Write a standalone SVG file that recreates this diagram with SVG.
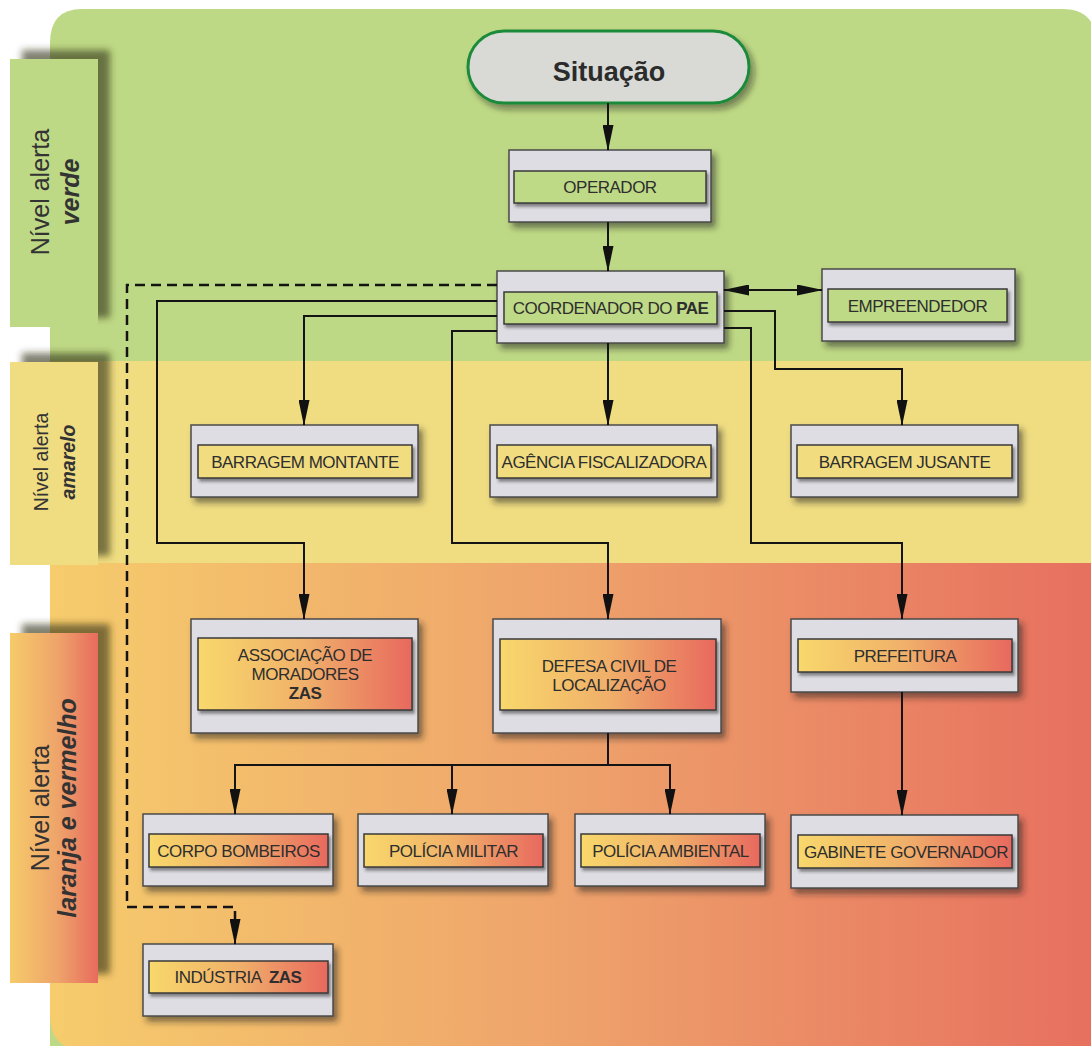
<svg xmlns="http://www.w3.org/2000/svg" width="1091" height="1046" viewBox="0 0 1091 1046">
<defs>
<style>
.t{font-family:"Liberation Sans",Arial,sans-serif;font-size:17px;letter-spacing:-0.5px;fill:#2e2e2e;text-anchor:middle}
.b{font-weight:bold}
.lab{font-family:"Liberation Sans",Arial,sans-serif;fill:#333;text-anchor:middle}
.outer{fill:#dedde3;stroke:#4a4a4a;stroke-width:1.5;filter:url(#sh)}
.inner{stroke:#3a3a3a;stroke-width:1.5;filter:url(#sh2)}
.ig{fill:#bfda86}
.iy{fill:#f1dc80}
.io{fill:url(#gInner)}
.ln{fill:none;stroke:#141414;stroke-width:2}
.arr{marker-end:url(#ah)}
.dash{fill:none;stroke:#141414;stroke-width:2.5;stroke-dasharray:10 6}
</style>
<linearGradient id="gBand" x1="50" y1="0" x2="1091" y2="0" gradientUnits="userSpaceOnUse">
<stop offset="0" stop-color="#f6cc6c"/>
<stop offset="0.5" stop-color="#eea26b"/>
<stop offset="1" stop-color="#e7705f"/>
</linearGradient>
<linearGradient id="gInner" x1="0" y1="0" x2="1" y2="0">
<stop offset="0" stop-color="#f8d86c"/>
<stop offset="0.5" stop-color="#f0b06a"/>
<stop offset="1" stop-color="#e8695e"/>
</linearGradient>
<linearGradient id="gLab" x1="0" y1="0" x2="1" y2="0">
<stop offset="0" stop-color="#f6cb6b"/>
<stop offset="0.55" stop-color="#eea36a"/>
<stop offset="1" stop-color="#e86b5e"/>
</linearGradient>
<filter id="sh" x="-10%" y="-10%" width="125%" height="135%">
<feDropShadow dx="4" dy="5" stdDeviation="3" flood-color="#1a1a1a" flood-opacity="0.55"/>
</filter>
<filter id="sh2" x="-10%" y="-20%" width="125%" height="150%">
<feDropShadow dx="2" dy="3" stdDeviation="1.5" flood-color="#1a1a1a" flood-opacity="0.5"/>
</filter>
<filter id="shL" x="-20%" y="-10%" width="160%" height="125%">
<feDropShadow dx="12" dy="-9" stdDeviation="3.5" flood-color="#2a2a14" flood-opacity="0.6"/>
</filter>
<filter id="shP" x="-10%" y="-20%" width="125%" height="150%">
<feDropShadow dx="4" dy="5" stdDeviation="3" flood-color="#1a1a1a" flood-opacity="0.45"/>
</filter>
<marker id="ah" viewBox="0 0 26 11" refX="25" refY="5.5" markerWidth="26" markerHeight="11" markerUnits="userSpaceOnUse" orient="auto-start-reverse">
<path d="M0,0 L26,5.5 L0,11 Z" fill="#111"/>
</marker>
</defs>

<rect x="0" y="0" width="1091" height="1046" fill="#ffffff"/>

<g id="bands">
<path d="M82,9 H1062 Q1096,9 1096,43 V1050 H50 V43 Q50,9 82,9 Z" fill="#bed985"/>
<rect x="50" y="361" width="1046" height="202" fill="#f0dd82"/>
<path d="M50,563 H1096 V1050 H84 Q50,1050 50,1014 Z" fill="url(#gBand)"/>
</g>

<g id="labels">
<g id="label-verde">
<rect x="10" y="59" width="88" height="268" fill="#bed985" filter="url(#shL)"/>
<text class="lab" font-size="25" transform="translate(49,192) rotate(-90)">Nível alerta</text>
<text class="lab" font-size="25" font-weight="bold" font-style="italic" transform="translate(79,192) rotate(-90)">verde</text>
</g>
<g id="label-amarelo">
<rect x="10" y="362" width="88" height="203" fill="#f0dd82" filter="url(#shL)"/>
<text class="lab" font-size="19.5" transform="translate(48,462) rotate(-90)">Nível alerta</text>
<text class="lab" font-size="19.5" font-weight="bold" font-style="italic" transform="translate(75,462) rotate(-90)">amarelo</text>
</g>
<g id="label-laranja">
<rect x="10" y="633" width="88" height="350" fill="url(#gLab)" filter="url(#shL)"/>
<text class="lab" font-size="25" transform="translate(49,808) rotate(-90)">Nível alerta</text>
<text class="lab" font-size="25" font-weight="bold" font-style="italic" transform="translate(76,808) rotate(-90)">laranja e vermelho</text>
</g>
</g>

<g id="situacao">
<rect x="468" y="31" width="281" height="72" rx="36" ry="36" fill="#d9dad6" stroke="#1c8a3b" stroke-width="3" filter="url(#shP)"/>
<text x="609" y="81" font-family="Liberation Sans, Arial, sans-serif" font-size="27" font-weight="bold" fill="#2b2b2b" text-anchor="middle">Situação</text>
</g>

<g id="operador">
<rect class="outer" x="509" y="150" width="202" height="72"/>
<rect class="inner ig" x="514" y="171" width="192" height="32"/>
<text class="t" x="610" y="193">OPERADOR</text>
</g>

<g id="coordenador">
<rect class="outer" x="497" y="271" width="227" height="72"/>
<rect class="inner ig" x="504" y="292" width="213" height="32"/>
<text class="t" x="610.5" y="314">COORDENADOR DO <tspan class="b">PAE</tspan></text>
</g>

<g id="empreendedor">
<rect class="outer" x="822" y="269" width="193" height="72"/>
<rect class="inner ig" x="828" y="289" width="179" height="33"/>
<text class="t" x="917.5" y="311.5">EMPREENDEDOR</text>
</g>

<g id="barragem-montante">
<rect class="outer" x="191" y="425" width="227" height="72"/>
<rect class="inner iy" x="198" y="445" width="214" height="33"/>
<text class="t" x="305" y="467.5">BARRAGEM MONTANTE</text>
</g>

<g id="agencia">
<rect class="outer" x="490" y="425" width="227" height="72"/>
<rect class="inner iy" x="497" y="445" width="214" height="33"/>
<text class="t" x="604" y="467.5">AGÊNCIA FISCALIZADORA</text>
</g>

<g id="barragem-jusante">
<rect class="outer" x="791" y="425" width="227" height="72"/>
<rect class="inner iy" x="797" y="445" width="215" height="33"/>
<text class="t" x="904.5" y="467.5">BARRAGEM JUSANTE</text>
</g>

<g id="associacao">
<rect class="outer" x="191" y="619" width="227" height="114"/>
<rect class="inner io" x="198" y="638" width="214" height="72"/>
<text class="t" x="305" y="661">ASSOCIAÇÃO DE</text>
<text class="t" x="305" y="680">MORADORES</text>
<text class="t b" x="305" y="699">ZAS</text>
</g>

<g id="defesa-civil">
<rect class="outer" x="493" y="619" width="228" height="114"/>
<rect class="inner io" x="500" y="639" width="216" height="71"/>
<text class="t" x="609" y="672">DEFESA CIVIL DE</text>
<text class="t" x="609" y="691">LOCALIZAÇÃO</text>
</g>

<g id="prefeitura">
<rect class="outer" x="791" y="619" width="227" height="73"/>
<rect class="inner io" x="798" y="639" width="214" height="33"/>
<text class="t" x="905" y="661.5">PREFEITURA</text>
</g>

<g id="corpo-bombeiros">
<rect class="outer" x="143" y="814" width="190" height="72"/>
<rect class="inner io" x="149" y="834" width="179" height="33"/>
<text class="t" x="238.5" y="856.5">CORPO BOMBEIROS</text>
</g>

<g id="policia-militar">
<rect class="outer" x="358" y="814" width="190" height="72"/>
<rect class="inner io" x="364" y="834" width="179" height="33"/>
<text class="t" x="453.5" y="856.5">POLÍCIA MILITAR</text>
</g>

<g id="policia-ambiental">
<rect class="outer" x="575" y="814" width="190" height="72"/>
<rect class="inner io" x="581" y="834" width="179" height="33"/>
<text class="t" x="670.5" y="856.5">POLÍCIA AMBIENTAL</text>
</g>

<g id="gabinete">
<rect class="outer" x="791" y="815" width="227" height="73"/>
<rect class="inner io" x="798" y="835" width="214" height="33"/>
<text class="t" x="906" y="857.5">GABINETE GOVERNADOR</text>
</g>

<g id="industria">
<rect class="outer" x="143" y="944" width="190" height="72"/>
<rect class="inner io" x="149" y="961" width="179" height="32"/>
<text class="t" x="238" y="983">INDÚSTRIA <tspan class="b" dx="4">ZAS</tspan></text>
</g>

<g id="connectors">
<path class="ln arr" d="M608,103 V150"/>
<path class="ln arr" d="M608,222 V271"/>
<path class="ln" d="M724,290 H822" marker-start="url(#ah)" marker-end="url(#ah)"/>
<path class="ln arr" d="M608,343 V425"/>
<path class="ln arr" d="M497,316 H304 V425"/>
<path class="ln arr" d="M497,301 H157 V543 H304 V619"/>
<path class="ln arr" d="M497,331 H452 V543 H608 V619"/>
<path class="ln arr" d="M724,311 H775 V369 H902 V425"/>
<path class="ln arr" d="M724,328 H751 V543 H902 V619"/>
<path class="ln arr" d="M902,692 V815"/>
<path class="ln arr" d="M608,733 V765 H235 V814"/>
<path class="ln arr" d="M452,765 V814"/>
<path class="ln arr" d="M608,765 H670 V814"/>
<path class="dash" d="M497,285 H127 V907 H235 V920"/>
<path class="ln arr" d="M235,918 V944"/>
</g>
</svg>
